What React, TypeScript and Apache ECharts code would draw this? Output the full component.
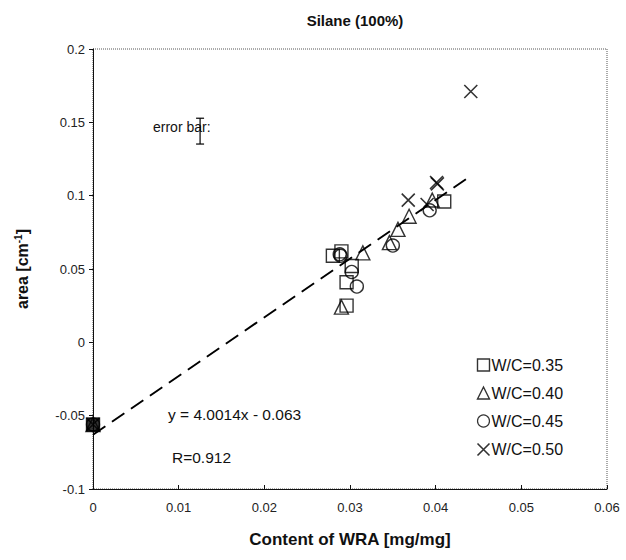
import React, { useEffect, useRef } from "react";
import * as echarts from "echarts";

const titleText = "Silane (100%)";
const xTicks = [0, 0.01, 0.02, 0.03, 0.04, 0.05, 0.06];
const yTicks = [-0.1, -0.05, 0, 0.05, 0.1, 0.15, 0.2];
const seriesNames = ["W/C=0.35", "W/C=0.40", "W/C=0.45", "W/C=0.50"];

const wc035: number[][] = [
  [0, -0.056], [0.028, 0.059], [0.029, 0.062], [0.0296, 0.041], [0.0296, 0.025], [0.0302, 0.052], [0.041, 0.096],
];
const wc040: number[][] = [
  [0, -0.056], [0.029, 0.024], [0.0315, 0.061], [0.0346, 0.068], [0.0356, 0.077], [0.0369, 0.086], [0.0396, 0.097],
];
const wc045: number[][] = [
  [0, -0.056], [0.0288, 0.06], [0.0289, 0.059], [0.0302, 0.048], [0.0308, 0.038], [0.035, 0.066], [0.0393, 0.09],
];
const wc050: number[][] = [
  [0, -0.056], [0.0368, 0.097], [0.039, 0.094], [0.0401, 0.109], [0.0402, 0.108], [0.0441, 0.171],
];
const slope = 4.0014;
const intercept = -0.063;
const fitRange = [0, 0.0436];
const errorBar = { x: 0.0125, y: 0.144, half: 0.0088 };

const X_PATH = "path://M0,0L10,10M10,0L0,10";
const FONT = "Liberation Sans, Arial, sans-serif";

export default function App() {
  const ref = useRef<HTMLDivElement>(null);
  useEffect(() => {
    if (!ref.current) return;
    const chart = echarts.init(ref.current, undefined, { renderer: "svg" });
    const hollow = { color: "#fff", borderColor: "#000", borderWidth: 1.4 };
    const fitData = fitRange.map((x) => [x, slope * x + intercept]);
    chart.setOption({
      animation: false,
      backgroundColor: "#fff",
      textStyle: { fontFamily: FONT },
      title: {
        text: titleText,
        left: 350,
        textAlign: "center",
        top: 8,
        textStyle: { fontSize: 15, fontWeight: "bold", color: "#111", fontFamily: FONT },
      },
      grid: { left: 93, right: 19, top: 49, bottom: 71, show: true, borderColor: "#555", borderWidth: 1, borderType: "dotted" },
      xAxis: {
        type: "value",
        min: xTicks[0],
        max: xTicks[xTicks.length - 1],
        interval: 0.01,
        name: "Content of WRA [mg/mg]",
        nameLocation: "middle",
        nameGap: 42,
        nameTextStyle: { fontSize: 17, fontWeight: "bold", color: "#111", fontFamily: FONT },
        axisLine: { onZero: false, lineStyle: { color: "#111", width: 1 } },
        axisTick: { inside: true, length: 4, lineStyle: { color: "#111" } },
        axisLabel: { fontSize: 13, color: "#222", margin: 12, fontFamily: FONT },
        splitLine: { show: false },
      },
      yAxis: {
        type: "value",
        min: yTicks[0],
        max: yTicks[yTicks.length - 1],
        interval: 0.05,
        name: "area [cm{sup|-1}]",
        nameLocation: "middle",
        nameGap: 62,
        nameRotate: 90,
        nameTextStyle: {
          fontSize: 16,
          fontWeight: "bold",
          color: "#111",
          fontFamily: FONT,
          rich: { sup: { fontSize: 10, fontWeight: "bold", verticalAlign: "top", padding: [0, 0, 8, 0] } },
        },
        axisLine: { onZero: false, lineStyle: { color: "#111", width: 1 } },
        axisTick: { length: 4, lineStyle: { color: "#111" } },
        axisLabel: { fontSize: 13, color: "#222", margin: 8, fontFamily: FONT },
        splitLine: { show: false },
      },
      legend: {
        orient: "vertical",
        left: 470,
        top: 352,
        itemWidth: 12,
        itemHeight: 12,
        itemGap: 12,
        textStyle: { fontSize: 16, color: "#111", fontFamily: FONT, padding: [0, 0, 0, -3] },
        data: [
          { name: seriesNames[0], icon: "rect", itemStyle: hollow },
          { name: seriesNames[1], icon: "triangle", itemStyle: hollow },
          { name: seriesNames[2], icon: "circle", itemStyle: { ...hollow, borderWidth: 1.2 } },
          { name: seriesNames[3], icon: X_PATH, itemStyle: { color: "none", borderColor: "#000", borderWidth: 1.6 } },
        ],
      },
      graphic: [
        { type: "text", left: 168, top: 406, style: { text: "y = 4.0014x - 0.063", fontSize: 15.5, fill: "#111", fontFamily: FONT } },
        { type: "text", left: 172, top: 449, style: { text: "R=0.912", fontSize: 15.5, fill: "#111", fontFamily: FONT } },
        { type: "text", left: 153, top: 120, style: { text: "error bar:", fontSize: 14, fill: "#111", fontFamily: FONT } },
      ],
      series: [
        {
          type: "line",
          data: fitData,
          symbol: "none",
          silent: true,
          lineStyle: { color: "#000", width: 2, type: [15, 8] },
          z: 1,
        },
        {
          name: seriesNames[0],
          type: "scatter",
          symbol: "rect",
          symbolSize: 13,
          itemStyle: { ...hollow, color: "transparent" },
          data: wc035.map((p, i) => (i === 0 ? { value: p, itemStyle: { color: "#000" } } : p)),
          z: 3,
        },
        {
          name: seriesNames[1],
          type: "scatter",
          symbol: "triangle",
          symbolSize: 14,
          itemStyle: { ...hollow, color: "transparent" },
          data: wc040,
          z: 3,
        },
        {
          name: seriesNames[2],
          type: "scatter",
          symbol: "circle",
          symbolSize: 13,
          itemStyle: { ...hollow, color: "transparent" },
          data: wc045,
          z: 3,
        },
        {
          name: seriesNames[3],
          type: "scatter",
          symbol: X_PATH,
          symbolSize: 13,
          itemStyle: { color: "none", borderColor: "#000", borderWidth: 1.6 },
          data: wc050,
          z: 3,
        },
        {
          type: "custom",
          silent: true,
          data: [[errorBar.x, errorBar.y, errorBar.half]],
          renderItem: (_params: any, api: any) => {
            const x = api.value(0);
            const y = api.value(1);
            const h = api.value(2);
            const top = api.coord([x, y + h]);
            const bot = api.coord([x, y - h]);
            const w = 4;
            const st = { stroke: "#000", lineWidth: 1.2 };
            return {
              type: "group",
              children: [
                { type: "line", shape: { x1: top[0], y1: top[1], x2: bot[0], y2: bot[1] }, style: st },
                { type: "line", shape: { x1: top[0] - w, y1: top[1], x2: top[0] + w, y2: top[1] }, style: st },
                { type: "line", shape: { x1: bot[0] - w, y1: bot[1], x2: bot[0] + w, y2: bot[1] }, style: st },
              ],
            };
          },
        },
      ],
    });
    return () => chart.dispose();
  }, []);
  return <div ref={ref} style={{ width: 626, height: 560, position: "absolute", left: 0, top: 0 }} />;
}
